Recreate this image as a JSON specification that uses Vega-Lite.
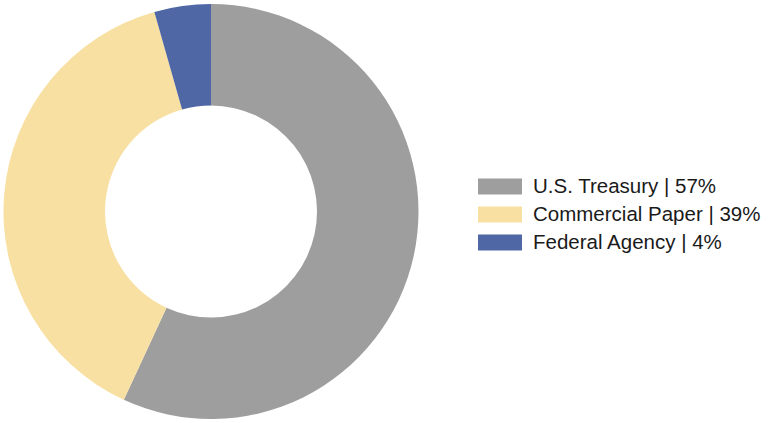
{
  "$schema": "https://vega.github.io/schema/vega-lite/v6.json",
  "width": 422,
  "height": 423,
  "padding": 0,
  "autosize": {"type": "pad"},
  "background": "white",
  "data": {
    "values": [
      {"category": "U.S. Treasury | 57%", "value": 56.9, "ord": 1},
      {"category": "Commercial Paper | 39%", "value": 38.7, "ord": 2},
      {"category": "Federal Agency | 4%", "value": 4.4, "ord": 3}
    ]
  },
  "mark": {"type": "arc", "outerRadius": 207.5, "innerRadius": 106},
  "encoding": {
    "theta": {"field": "value", "type": "quantitative", "stack": true},
    "order": {"field": "ord", "type": "quantitative"},
    "color": {
      "field": "category",
      "type": "nominal",
      "sort": null,
      "scale": {
        "domain": ["U.S. Treasury | 57%", "Commercial Paper | 39%", "Federal Agency | 4%"],
        "range": ["#9e9e9e", "#f8e0a2", "#4f67a5"]
      },
      "legend": {
        "title": null,
        "orient": "none",
        "legendX": 482.5,
        "legendY": 169,
        "symbolType": "M-1.257,-0.457H1.257V0.457H-1.257Z",
        "symbolSize": 1225,
        "symbolStrokeWidth": 0,
        "symbolOpacity": 1,
        "labelFont": "Liberation Sans",
        "labelFontSize": 20.5,
        "labelColor": "#1a1a1a",
        "labelOffset": 15.5,
        "labelLimit": 400,
        "rowPadding": 0,
        "symbolOffset": 0,
        "padding": 0
      }
    }
  }
}
